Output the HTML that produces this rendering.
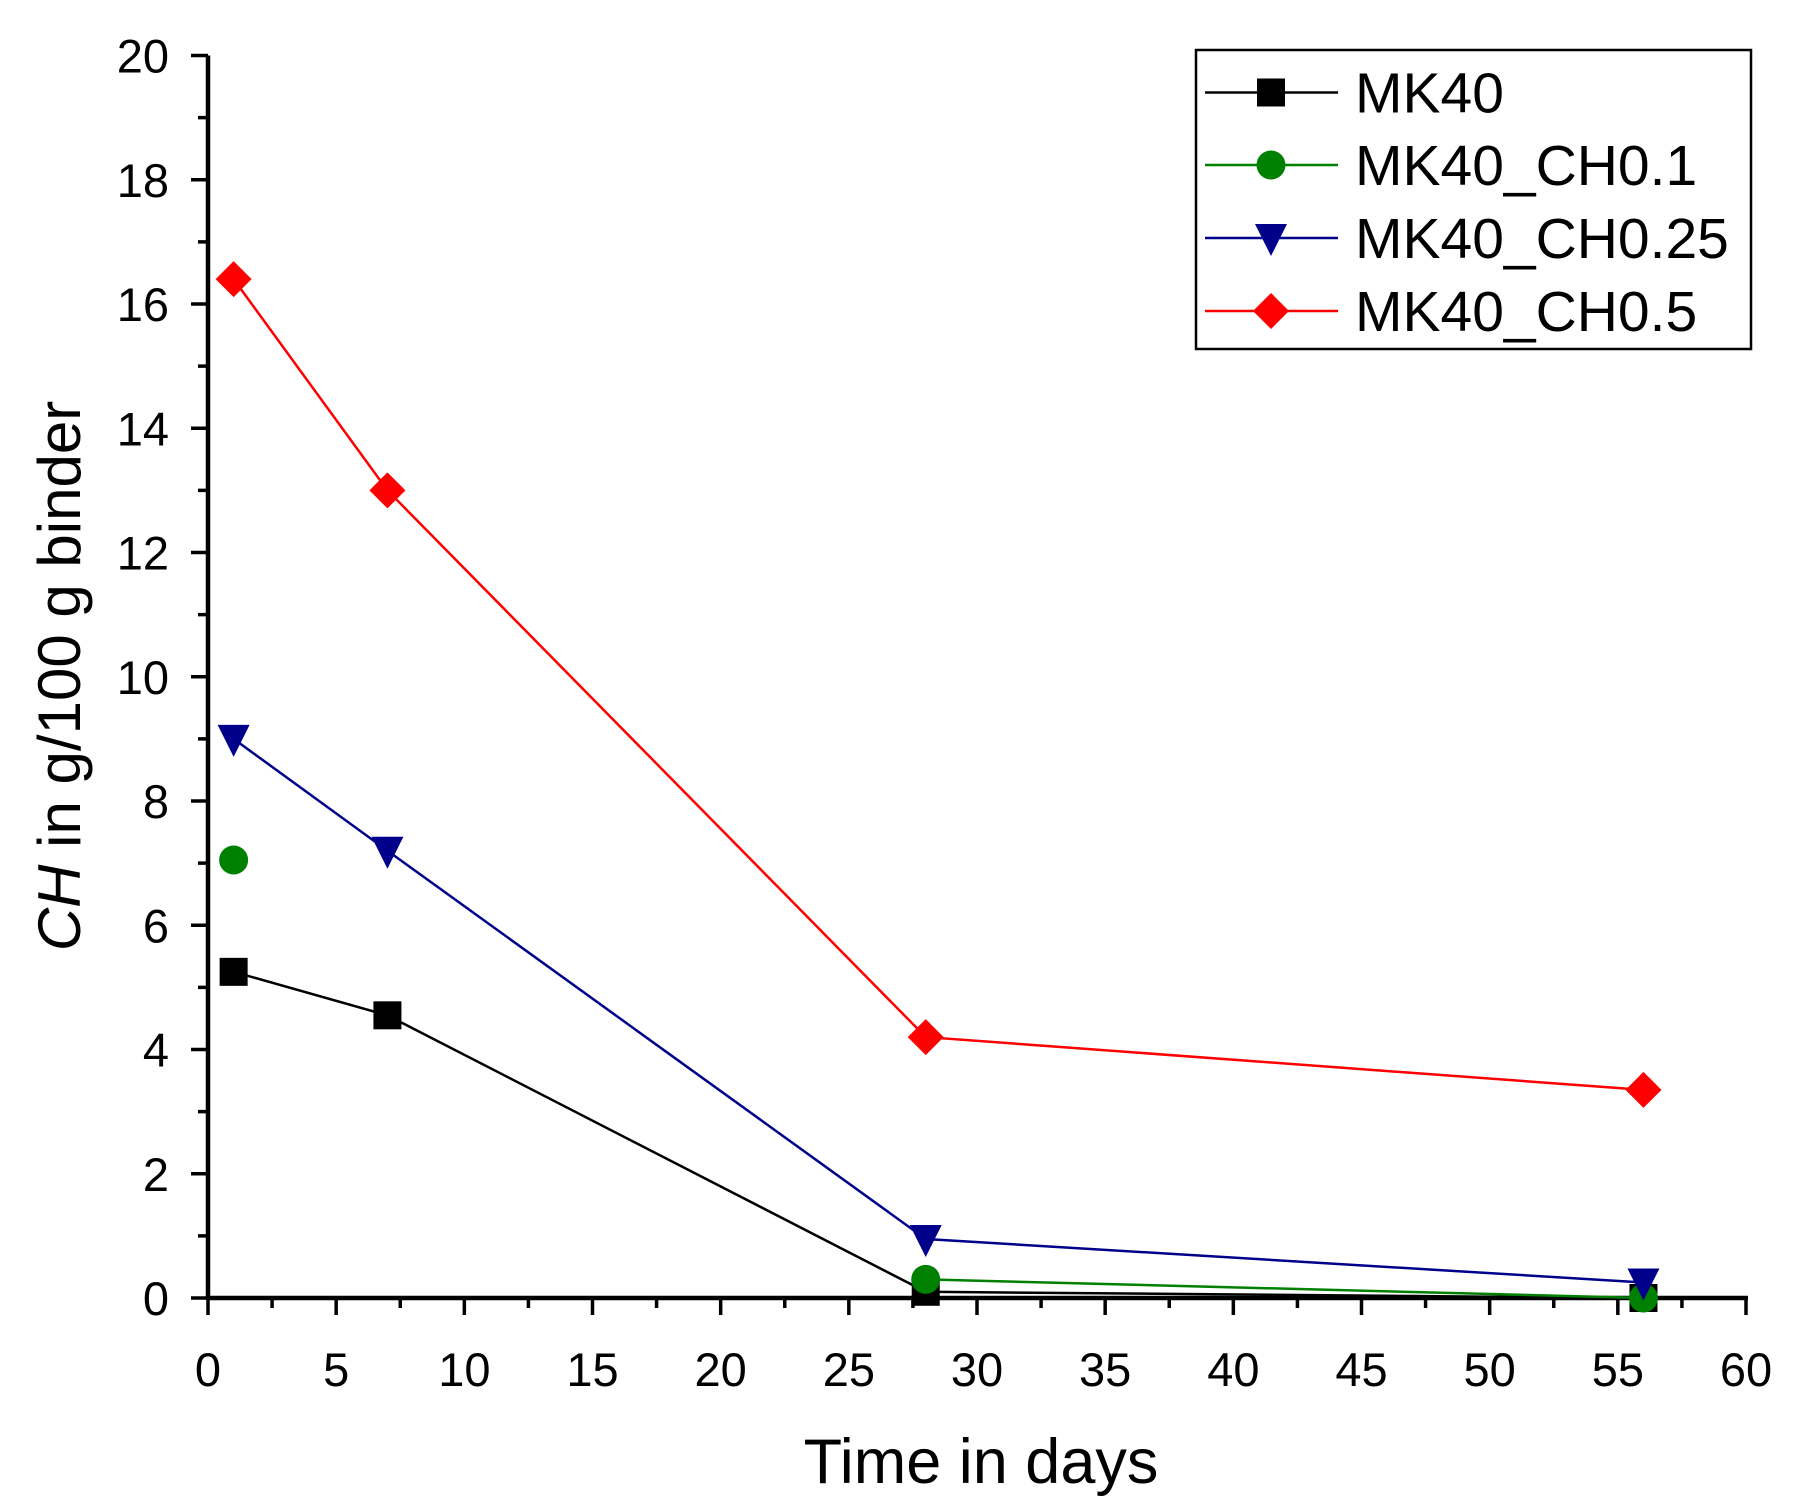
<!DOCTYPE html>
<html><head><meta charset="utf-8"><style>
html,body{margin:0;padding:0;background:#fff;}
svg{display:block;font-family:"Liberation Sans",Arial,sans-serif;}
</style></head><body>
<svg id="chart" width="1804" height="1510" viewBox="0 0 1804 1510" xmlns="http://www.w3.org/2000/svg">
<g id="axes"></g>
<g id="series"></g>
<text x="981" y="1483" font-size="63" text-anchor="middle">Time in days</text>
<text transform="translate(80,676) rotate(-90)" font-size="60" text-anchor="middle"><tspan font-style="italic">CH</tspan> in g/100 g binder</text>
<g id="legend"></g>
</svg>
<script>
const days = [1, 7, 28, 56];
const seriesNames = ["MK40", "MK40_CH0.1", "MK40_CH0.25", "MK40_CH0.5"];
const mk40 = [5.25, 4.55, 0.1, 0.0];
const mk40ch01 = [7.05, null, 0.3, 0.0];
const mk40ch025 = [9.0, 7.2, 0.95, 0.25];
const mk40ch05 = [16.4, 13.0, 4.2, 3.35];
const xTicks = [0,5,10,15,20,25,30,35,40,45,50,55,60];
const yTicks = [0,2,4,6,8,10,12,14,16,18,20];

const NS="http://www.w3.org/2000/svg";
const X0=208,X1=1746,Y0=1298,Y1=55.5;
function sx(v){return X0+(v-0)/60*(X1-X0);}
function sy(v){return Y0-(v-0)/20*(Y0-Y1);}
function mk(tag,attrs,parent){const e=document.createElementNS(NS,tag);for(const k in attrs)e.setAttribute(k,attrs[k]);parent.appendChild(e);return e;}
const axes=document.getElementById('axes');
let e;
e=mk('line',{x1:X0-2,y1:Y0,x2:X1+2,y2:Y0,stroke:'#000','stroke-width':4.5},axes);


e=mk('line',{x1:X0,y1:Y0+2,x2:X0,y2:Y1,stroke:'#000','stroke-width':4.5},axes);


for(let i=0;i<xTicks.length;i++){
  const v=xTicks[i];
  e=mk('line',{x1:sx(v),y1:Y0,x2:sx(v),y2:Y0+17,stroke:'#000','stroke-width':3.5},axes);
  
  
  if(i<xTicks.length-1){
    e=mk('line',{x1:sx(v+2.5),y1:Y0,x2:sx(v+2.5),y2:Y0+10,stroke:'#000','stroke-width':3.5},axes);
    
    
  }
  e=mk('text',{x:sx(v),y:1386,'font-size':47,'text-anchor':'middle'},axes);
  e.textContent=v;
  
  
}
for(let i=0;i<yTicks.length;i++){
  const v=yTicks[i];
  e=mk('line',{x1:X0-17,y1:sy(v),x2:X0,y2:sy(v),stroke:'#000','stroke-width':3.5},axes);
  
  
  if(i<yTicks.length-1){
    e=mk('line',{x1:X0-10,y1:sy(v+1),x2:X0,y2:sy(v+1),stroke:'#000','stroke-width':3.5},axes);
    
    
  }
  e=mk('text',{x:169,y:sy(v)+17,'font-size':47,'text-anchor':'end'},axes);
  e.textContent=v;
  
  
}
function marker(shape,cx,cy,color,parent){
  const s=15;let m;
  if(shape==='square')m=mk('rect',{x:cx-s+1,y:cy-s+1,width:2*s-2,height:2*s-2,fill:color},parent);
  else if(shape==='circle')m=mk('circle',{cx:cx,cy:cy,r:s-0.5,fill:color},parent);
  else if(shape==='tri')m=mk('polygon',{points:`${cx-s-1},${cy-s+1} ${cx+s+1},${cy-s+1} ${cx},${cy+s+3}`,fill:color},parent);
  else m=mk('polygon',{points:`${cx},${cy-s-3} ${cx+s+3},${cy} ${cx},${cy+s+3} ${cx-s-3},${cy}`,fill:color},parent);
  return m;
}
const allSeries=[[mk40,'#000','square'],[mk40ch01,'#008000','circle'],[mk40ch025,'#00008b','tri'],[mk40ch05,'#ff0000','diamond']];
const sg=document.getElementById('series');
allSeries.forEach((s,k)=>{
  const vals=s[0];
  let segs=[[]];const pts=[];
  vals.forEach((v,i)=>{
    if(v===null){segs.push([]);return;}
    const p=[sx(days[i]),sy(v)];pts.push(p);segs[segs.length-1].push(p);
  });
  segs.forEach(seg=>{
    if(seg.length<2)return;
    e=mk('polyline',{points:seg.map(p=>p.join(',')).join(' '),fill:'none',stroke:s[1],'stroke-width':2.5},sg);
    
    
  });
  pts.forEach(p=>{
    e=marker(s[2],p[0],p[1],s[1],sg);
    
    
  });
});
const lg=document.getElementById('legend');
e=mk('rect',{x:1196,y:50,width:555,height:299,fill:'#fff',stroke:'#000','stroke-width':2.5},lg);


const ly=[92.5,165,238,311];
allSeries.forEach((s,k)=>{
  e=mk('line',{x1:1205,y1:ly[k],x2:1338,y2:ly[k],stroke:s[1],'stroke-width':2.5},lg);
  
  
  e=marker(s[2],1271,ly[k],s[1],lg);
  
  
  e=mk('text',{x:1355,y:ly[k]+20,'font-size':57},lg);
  e.textContent=seriesNames[k];
  
  
});
</script>
</body></html>
